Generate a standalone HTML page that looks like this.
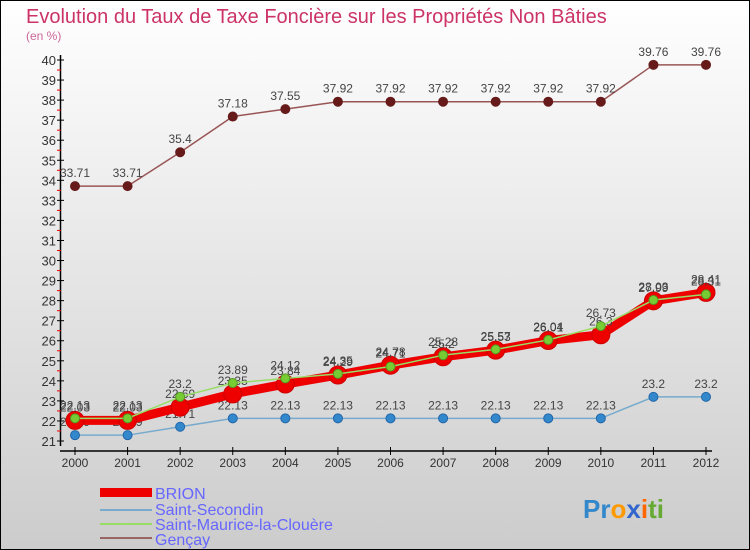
<!DOCTYPE html>
<html><head><meta charset="utf-8">
<style>
body{margin:0;width:750px;height:550px;overflow:hidden;font-family:"Liberation Sans",sans-serif;}
svg{display:block}
</style></head>
<body>
<svg id="chart" width="750" height="550">
<defs>
<linearGradient id="bg" x1="0" y1="0" x2="0" y2="1">
<stop offset="0" stop-color="#ffffff"/><stop offset="1" stop-color="#cccccc"/>
</linearGradient>
</defs>
<rect x="0" y="0" width="750" height="550" fill="url(#bg)" stroke="#000" stroke-width="2"/>
<text x="26" y="23" font-size="20" fill="#cc3366">Evolution du Taux de Taxe Foncière sur les Propriétés Non Bâties</text>
<text x="26" y="40" font-size="12" fill="#cc6699">(en %)</text>
<g id="axes"></g>
<g id="series"></g>
<g id="legend">
<rect x="100" y="488" width="52" height="9" fill="#ee0000"/>
<text x="155" y="499" font-size="16" fill="#6666ff">BRION</text>
<rect x="100" y="509" width="52" height="2" fill="#77aacc"/>
<text x="155" y="515" font-size="16" fill="#6666ff">Saint-Secondin</text>
<rect x="100" y="523" width="52" height="2" fill="#99dd66"/>
<text x="155" y="530" font-size="16" fill="#6666ff">Saint-Maurice-la-Clouère</text>
<rect x="100" y="537" width="52" height="2" fill="#996666"/>
<text x="155" y="545" font-size="16" fill="#6666ff">Gençay</text>
</g>
<text x="583" y="518" font-size="26" font-weight="bold"><tspan fill="#3388cc">Pr</tspan><tspan fill="#ff9900">o</tspan><tspan fill="#3366cc">x</tspan><tspan fill="#ff6600">i</tspan><tspan fill="#66aa33">ti</tspan></text>
</svg>
<script>
const years=["2000","2001","2002","2003","2004","2005","2006","2007","2008","2009","2010","2011","2012"];
const yTicks=[21,22,23,24,25,26,27,28,29,30,31,32,33,34,35,36,37,38,39,40];
const brion=[22.03,22.03,22.69,23.35,23.84,24.29,24.78,25.2,25.53,26.01,26.3,27.99,28.41];
const secondin=[21.29,21.29,21.71,22.13,22.13,22.13,22.13,22.13,22.13,22.13,22.13,23.2,23.2];
const maurice=[22.13,22.13,23.2,23.89,24.12,24.35,24.71,25.28,25.57,26.04,26.73,28.03,28.31];
const gencay=[33.71,33.71,35.4,37.18,37.55,37.92,37.92,37.92,37.92,37.92,37.92,39.76,39.76];
const NS="http://www.w3.org/2000/svg";
const x=i=>75+i*(706-75)/(years.length-1);
const y=v=>441-(v-21)*(441-60)/19;
function mk(tag,attrs,parent){const e=document.createElementNS(NS,tag);for(const k in attrs)e.setAttribute(k,attrs[k]);parent.appendChild(e);return e;}
const ax=document.getElementById('axes');
let l=mk('line',{x1:60.5,y1:55,x2:60.5,y2:446,stroke:'#000','stroke-width':1.5},ax);


yTicks.forEach(t=>{
 let tk=mk('line',{x1:57,x2:64,y1:y(t),y2:y(t),stroke:'#000'},ax);
 
 
 let tx=mk('text',{x:56,y:y(t)+5,'font-size':13,'text-anchor':'end',fill:'#333'},ax);
 tx.textContent=t;
 
 
 if(t<40){let m=mk('line',{x1:57,x2:61,y1:y(t+0.5),y2:y(t+0.5),stroke:'#e00'},ax);
 
 }
});
let xl=mk('line',{x1:60,y1:451,x2:712,y2:451,stroke:'#000','stroke-width':1.5},ax);


years.forEach((yr,i)=>{
 let tk=mk('line',{x1:x(i),x2:x(i),y1:447,y2:455,stroke:'#000'},ax);
 
 
 let tx=mk('text',{x:x(i),y:467,'font-size':12,'text-anchor':'middle',fill:'#333'},ax);
 tx.textContent=yr;
 
 
});
const sg=document.getElementById('series');
function series(name,vals,color,w,r,fill,stroke){
 const g=mk('g',{},sg);
 
 
 const p=mk('polyline',{points:vals.map((v,i)=>x(i)+','+y(v)).join(' '),fill:'none',stroke:color,'stroke-width':w,'stroke-linejoin':'round'},g);
 
 
 vals.forEach((v,i)=>{
  const c=mk('circle',{cx:x(i),cy:y(v),r:r,fill:fill,stroke:stroke,'stroke-width':1},g);
  
  
  const t=mk('text',{x:x(i),y:y(v)-9,'font-size':12,'text-anchor':'middle',fill:'#444'},g);
  t.textContent=String(v);
  
  
 });
}
series('gencay',gencay,'#995555',1.5,4.5,'#661a1a','#661a1a');
series('saint-secondin',secondin,'#77aacc',1.5,4.5,'#3388cc','#2266aa');
series('brion',brion,'#ee0000',9,9,'#ee0000','#cc0000');
series('saint-maurice',maurice,'#99dd66',1.5,4.5,'#77cc33','#559922');
</script>
</body></html>
